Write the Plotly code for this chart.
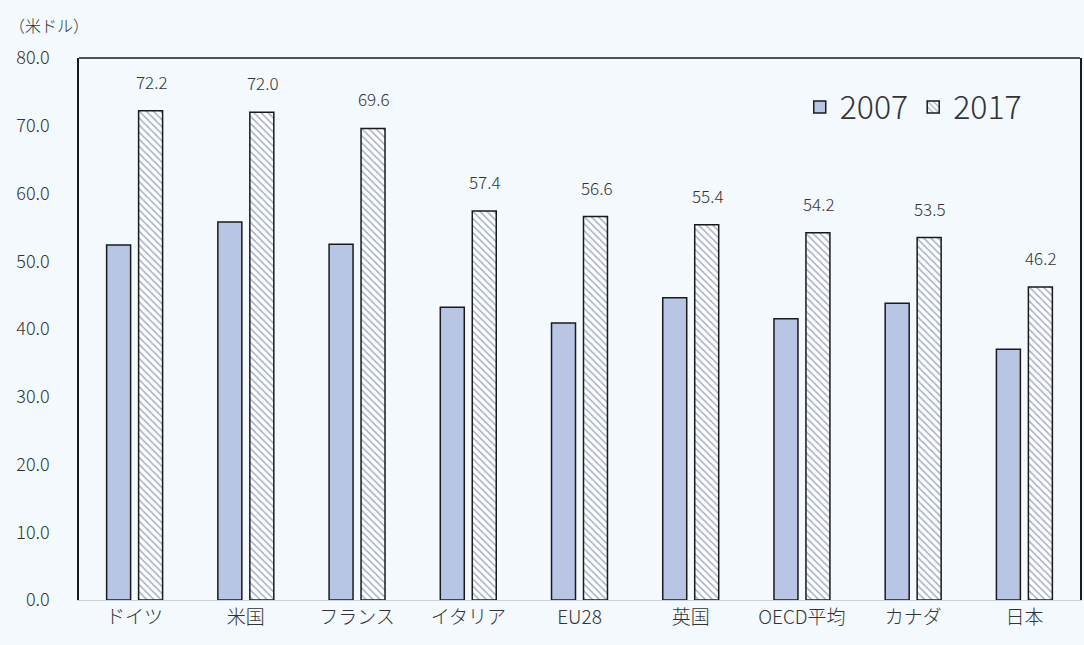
import plotly.graph_objects as go

categories = ["ドイツ", "米国", "フランス", "イタリア", "EU28", "英国", "OECD平均", "カナダ", "日本"]
values_2007 = [52.4, 55.8, 52.5, 43.2, 40.9, 44.6, 41.5, 43.8, 37.0]
values_2017 = [72.2, 72.0, 69.6, 57.4, 56.6, 55.4, 54.2, 53.5, 46.2]
label_2017 = ["72.2", "72.0", "69.6", "57.4", "56.6", "55.4", "54.2", "53.5", "46.2"]
y_ticks = [0, 10, 20, 30, 40, 50, 60, 70, 80]

FONT = "Noto Sans CJK JP"
BG = "#F3F9FC"
TXT = "#333333"
W = 300

fig = go.Figure()
fig.add_trace(go.Bar(
    name="2007", x=categories, y=values_2007,
    marker=dict(color="#B8C5E5", line=dict(color="#1a1a1a", width=1.5)),
))
fig.add_trace(go.Bar(
    name="2017", x=categories, y=values_2017,
    marker=dict(color="white", line=dict(color="#1a1a1a", width=1.5),
                pattern=dict(shape="\\", fgcolor="#4A5E92", bgcolor="white",
                             size=5, solidity=0.3)),
))

for c, v, t in zip(categories, values_2017, label_2017):
    fig.add_annotation(x=c, y=v, text=t, showarrow=False, xshift=17,
                       yanchor="bottom", yshift=15,
                       font=dict(family=FONT, size=17, color=TXT, weight=W))

fig.add_annotation(xref="paper", yref="paper", x=-0.072, y=1.035,
                   xanchor="left", yanchor="bottom", text="（米ドル）",
                   showarrow=False, font=dict(family=FONT, size=16, color=TXT, weight=W))

fig.add_shape(type="line", xref="paper", yref="paper", x0=0, x1=1, y0=1, y1=1,
              line=dict(color="#1a1a1a", width=1.5))

fig.update_layout(
    width=1084, height=645,
    margin=dict(l=79, r=2, t=58, b=45),
    paper_bgcolor=BG, plot_bgcolor=BG,
    barmode="group", bargap=0.425, bargroupgap=0.25,
    font=dict(family=FONT, color=TXT, weight=W),
    showlegend=True,
    legend=dict(orientation="h", x=0.72, y=0.96, xanchor="left", yanchor="top",
                bgcolor="rgba(0,0,0,0)", font=dict(family=FONT, size=32, color=TXT, weight=W),
                itemwidth=30, tracegroupgap=0),
    xaxis=dict(showline=True, linecolor="#C8D0D8", linewidth=1, showgrid=False,
               ticks="", tickfont=dict(family=FONT, size=19, color=TXT, weight=W)),
    yaxis=dict(range=[0, 80], tickvals=y_ticks, tickformat=".1f", showgrid=False,
               showline=True, linecolor="#1a1a1a", linewidth=1.5, mirror=True,
               ticks="", zeroline=False, ticklabelstandoff=24,
               tickfont=dict(family=FONT, size=18, color=TXT, weight=W)),
)

fig.write_html("out.html")
